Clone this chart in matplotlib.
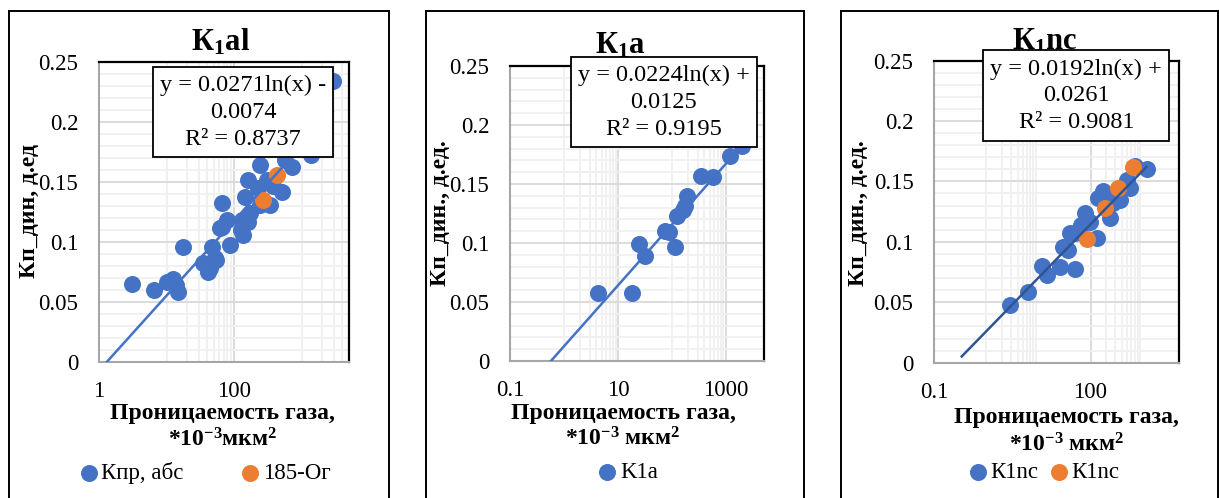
import numpy as np
import matplotlib
matplotlib.use("Agg")
import matplotlib.pyplot as plt
from matplotlib.patches import Rectangle
from matplotlib.lines import Line2D
from matplotlib.ticker import FixedLocator, FixedFormatter, NullFormatter

plt.rcParams['font.family'] = ['Liberation Serif', 'DejaVu Serif']
plt.rcParams['mathtext.fontset'] = 'custom'
plt.rcParams['mathtext.rm'] = 'Liberation Serif'
plt.rcParams['mathtext.bf'] = 'Liberation Serif:bold'
plt.rcParams['mathtext.it'] = 'Liberation Serif:italic'

BLUE = '#4472C4'
ORANGE = '#ED7D31'

# ---- K1al: gas permeability (*10^-3 um^2) vs dynamic porosity ----
al_perm = [3.1, 6.6, 10, 12.5, 14, 15, 17.7, 35, 41.5, 44, 46.7, 55, 52,
           62, 65.5, 65.5, 78, 87, 130, 137, 125, 163, 173, 145, 163,
           243, 230, 243, 340, 380, 510, 570, 715, 305, 1400, 2900]
al_por = [0.065, 0.060, 0.066, 0.069, 0.064, 0.058, 0.0958, 0.082, 0.075,
          0.078, 0.0958, 0.0848, 0.086, 0.111, 0.132, 0.1125, 0.118, 0.0972,
          0.118, 0.1056, 0.110, 0.1167, 0.1237, 0.1375, 0.151, 0.164, 0.1445,
          0.1306, 0.1306, 0.146, 0.1417, 0.168, 0.1625, 0.151, 0.172, 0.234]
al_og_perm = [272, 430]
al_og_por = [0.1348, 0.1556]
al_fit = [0.0271, -0.0074, 0.8737]

# ---- K1a ----
a_perm = [4.3, 17.9, 24.8, 31.6, 74, 88, 113, 122, 160, 175, 190, 339, 564,
          1175, 1950]
a_por = [0.058, 0.0575, 0.099, 0.089, 0.110, 0.109, 0.0966, 0.123, 0.128,
         0.131, 0.1396, 0.1566, 0.1557, 0.1736, 0.182]
a_fit = [0.0224, 0.0125, 0.9195]

# ---- K1nc ----
nc_perm = [2.84, 6.4, 11.5, 14.4, 25.8, 50, 30, 37, 40, 50, 67, 78, 98, 131,
           141, 175, 236, 274, 366, 340, 493, 570, 1190, 720]
nc_por = [0.0478, 0.0583, 0.0796, 0.0727, 0.079, 0.0774, 0.0961, 0.0934,
          0.107, 0.107, 0.114, 0.1238, 0.1168, 0.103, 0.136, 0.1417, 0.1197,
          0.132, 0.1348, 0.139, 0.1514, 0.1445, 0.1603, 0.163]
nc_og_perm = [84, 189, 340, 643]
nc_og_por = [0.1023, 0.128, 0.1445, 0.162]
nc_fit = [0.0192, 0.0261, 0.9081]

W, H = 1219, 498
fig = plt.figure(figsize=(W / 100, H / 100), dpi=100)
fig.patch.set_facecolor('white')

TICK_FS = 16.5
LAB_FS = 17
LEG_FS = 16.5
EQ_FS = 17.5
TITLE_FS = 22


def fx(px):
    return px / W


def fy(py):
    return 1 - py / H


def rect(l, t, r, b):
    return [fx(l), fy(b), (r - l) / W, (b - t) / H]


def frame(l, r, t):
    for xs, ys in (([l, l], [t, H + 5]), ([r, r], [t, H + 5]), ([l, r], [t, t])):
        fig.add_artist(Line2D([fx(v) for v in xs], [fy(v) for v in ys],
                              transform=fig.transFigure, color='black', lw=1.4))


def eq_box(l, t, r, b, fit):
    fig.add_artist(Rectangle((fx(l), fy(b)), (r - l) / W, (b - t) / H,
                             transform=fig.transFigure, facecolor='white',
                             edgecolor='black', lw=1.3, zorder=10))
    a, c, r2 = fit
    sign = '+' if c >= 0 else '-'
    lines = [f"y = {a:.4f}ln(x) {sign}", f"{abs(c):.4f}", f"R² = {r2:.4f}"]
    cx = (l + r) / 2
    step = (b - t) / 3.4
    for i, s in enumerate(lines):
        fig.text(fx(cx), fy(t + step * (i + 0.72)), s, ha='center', va='center',
                 fontsize=EQ_FS, zorder=11)


def setup_axes(box, xmin, majors, labels, minors):
    ax = fig.add_axes(rect(*box))
    ax.set_xscale('log')
    ax.set_xlim(xmin, 5000)
    ax.set_ylim(0, 0.25)
    ax.xaxis.set_major_locator(FixedLocator(majors))
    ax.xaxis.set_major_formatter(FixedFormatter(labels))
    ax.xaxis.set_minor_locator(FixedLocator(minors))
    ax.xaxis.set_minor_formatter(NullFormatter())
    ax.yaxis.set_major_locator(FixedLocator([0, 0.05, 0.1, 0.15, 0.2, 0.25]))
    ax.yaxis.set_major_formatter(FixedFormatter(['0', '0.05', '0.1', '0.15', '0.2', '0.25']))
    ax.yaxis.set_minor_locator(FixedLocator(np.arange(0.01, 0.25, 0.01)))
    ax.tick_params(which='both', length=0)
    ax.tick_params(axis='y', pad=15, labelsize=TICK_FS)
    ax.tick_params(axis='x', pad=14, labelsize=TICK_FS)
    ax.set_axisbelow(True)
    ax.grid(which='major', color='#D9D9D9', lw=1.3)
    ax.grid(which='minor', color='#F0F0F0', lw=1.3)
    for s in ('left', 'bottom'):
        ax.spines[s].set_color('#A6A6A6')
        ax.spines[s].set_linewidth(1.5)
    for s in ('top', 'right'):
        ax.spines[s].set_color('black')
        ax.spines[s].set_linewidth(1.6)
    return ax


def trend(ax, fit, x0, x1, color):
    xs = np.geomspace(x0, x1, 200)
    ax.plot(xs, fit[0] * np.log(xs) + fit[1], color=color, lw=1.8, zorder=4,
            clip_on=True)


MS = 150
xlab1 = 'Проницаемость газа,'
leg_kw = dict(bbox_transform=fig.transFigure, frameon=False, fontsize=LEG_FS,
              handlelength=0.6, handletextpad=0.25, scatterpoints=1,
              borderaxespad=0, loc='center')

# ---------------- K1al ----------------
frame(9, 389, 11.5)
ax1 = setup_axes((99, 61.7, 348.7, 361.7), 1, [1, 100], ['1', '100'],
                 [10 * k for k in range(1, 10)] + [1000 * k for k in range(1, 10)])
h1 = ax1.scatter(al_perm, al_por, s=MS, color=BLUE, lw=0, zorder=3, label='Кпр, абс')
h2 = ax1.scatter(al_og_perm, al_og_por, s=MS, color=ORANGE, lw=0, zorder=3, label='185-Ог')
trend(ax1, al_fit, 1, max(al_perm), BLUE)
fig.text(fx(221), fy(42), r'К$_{\mathbf{1}}$al', ha='center', va='center',
         fontsize=TITLE_FS, fontweight='bold')
fig.text(fx(29), fy(211), 'Кп_дин, д.ед', rotation=90, ha='center', va='center',
         fontsize=LAB_FS, fontweight='bold')
fig.text(fx(222.7), fy(413), xlab1, ha='center', va='center', fontsize=LAB_FS,
         fontweight='bold')
fig.text(fx(222.7), fy(440), r'*10$^{\mathbf{-3}}$мкм$^{\mathbf{2}}$', ha='center',
         va='center', fontsize=LAB_FS, fontweight='bold')
eq_box(153.3, 66.7, 333.3, 157.3, al_fit)
ax1.legend(handles=[h1, h2], bbox_to_anchor=(fx(206), fy(473)), ncol=2,
           columnspacing=2.6, **leg_kw)

# ---------------- K1a ----------------
frame(425.7, 804.3, 11.5)
ax2 = setup_axes((510, 66, 763.7, 361), 0.1, [0.1, 10, 1000], ['0.1', '10', '1000'],
                 [k for k in range(1, 10)] + [100 * k for k in range(1, 10)])
h3 = ax2.scatter(a_perm, a_por, s=MS, color=BLUE, lw=0, zorder=3, label='K1a')
trend(ax2, a_fit, 0.1, max(a_perm), BLUE)
fig.text(fx(620), fy(46), r'К$_{\mathbf{1}}$a', ha='center', va='center',
         fontsize=TITLE_FS, fontweight='bold')
fig.text(fx(440), fy(213), 'Кп_дин., д.ед.', rotation=90, ha='center', va='center',
         fontsize=LAB_FS, fontweight='bold')
fig.text(fx(623), fy(413), xlab1, ha='center', va='center', fontsize=LAB_FS,
         fontweight='bold')
fig.text(fx(623), fy(439), r'*10$^{\mathbf{-3}}$ мкм$^{\mathbf{2}}$', ha='center',
         va='center', fontsize=LAB_FS, fontweight='bold')
eq_box(570.7, 56.7, 756.7, 147.3, a_fit)
ax2.legend(handles=[h3], bbox_to_anchor=(fx(629), fy(472)), **leg_kw)

# ---------------- K1nc ----------------
frame(840.7, 1218.3, 11.5)
ax3 = setup_axes((934.3, 60.5, 1179, 362.7), 0.1, [0.1, 100], ['0.1', '100'],
                 [k for k in range(1, 10)] + [100 * k for k in range(2, 10)])
h4 = ax3.scatter(nc_perm, nc_por, s=MS, color=BLUE, lw=0, zorder=3, label='К1nc')
h5 = ax3.scatter(nc_og_perm, nc_og_por, s=MS, color=ORANGE, lw=0, zorder=3, label='К1nc')
trend(ax3, nc_fit, 0.336, max(nc_perm), '#2F5597')
fig.text(fx(1045), fy(42), r'К$_{\mathbf{1}}$nc', ha='center', va='center',
         fontsize=TITLE_FS, fontweight='bold')
fig.text(fx(858), fy(213), 'Кп_дин., д.ед.', rotation=90, ha='center', va='center',
         fontsize=LAB_FS, fontweight='bold')
fig.text(fx(1066.7), fy(417), xlab1, ha='center', va='center', fontsize=LAB_FS,
         fontweight='bold')
fig.text(fx(1066.7), fy(445), r'*10$^{\mathbf{-3}}$ мкм$^{\mathbf{2}}$', ha='center',
         va='center', fontsize=LAB_FS, fontweight='bold')
eq_box(983.3, 50, 1169.3, 140.7, nc_fit)
ax3.legend(handles=[h4, h5], bbox_to_anchor=(fx(1045), fy(472)), ncol=2,
           columnspacing=0.6, **leg_kw)

fig.savefig('out.png', dpi=100, facecolor='white')
